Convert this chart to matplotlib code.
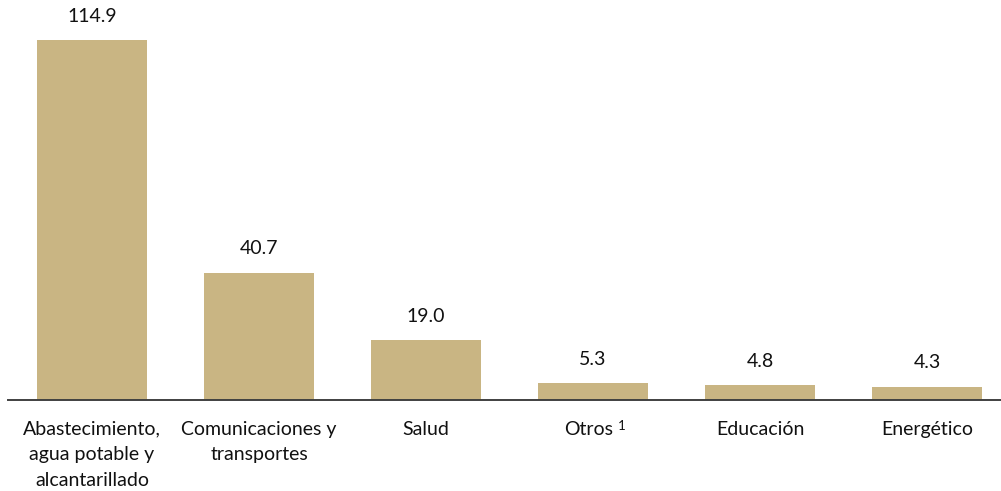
import matplotlib
matplotlib.use("Agg")
import matplotlib.pyplot as plt
from matplotlib.transforms import ScaledTranslation

categories = ["Abastecimiento,\nagua potable y\nalcantarillado",
              "Comunicaciones y\ntransportes",
              "Salud",
              "Otros",
              "Educación",
              "Energético"]
values = [114.9, 40.7, 19.0, 5.3, 4.8, 4.3]
value_labels = ["114.9", "40.7", "19.0", "5.3", "4.8", "4.3"]
footnote_mark = "1"

plt.rcParams['font.family'] = ['Lato', 'DejaVu Sans']

W, H = 1001, 491
fig = plt.figure(figsize=(W / 100, H / 100), dpi=100)
ax = fig.add_axes([8 / W, 91 / H, 1 - 8 / W, 1 - 91 / H])

x = list(range(len(values)))
bars = ax.bar(x, values, width=0.66, color="#C9B583", zorder=2)

ax.set_xlim(-0.503, 5.443)
ax.set_ylim(0, 127.7)

for b, lab in zip(bars, value_labels):
    ax.annotate(lab, (b.get_x() + b.get_width() / 2, b.get_height()),
                xytext=(0, 17), textcoords="offset points",
                ha="center", va="center", fontsize=14, color="#111111")

ax.set_xticks(x)
ax.set_xticklabels(categories, fontsize=14, color="#111111", linespacing=1.6)
ax.tick_params(axis="x", length=0, pad=15)
ax.set_yticks([])

# nudge "Otros" left to make room for its footnote marker
otros = ax.get_xticklabels()[3]
otros.set_transform(otros.get_transform() + ScaledTranslation(-4 / 100, 0, fig.dpi_scale_trans))
ax.annotate(footnote_mark, (3, 0), xytext=(21, -19), textcoords="offset points",
            ha="center", va="center", fontsize=9.5, color="#111111")

for s in ["top", "right", "left"]:
    ax.spines[s].set_visible(False)
ax.spines["bottom"].set_color("#404040")
ax.spines["bottom"].set_linewidth(1.4)

fig.savefig("out.png", dpi=100)
